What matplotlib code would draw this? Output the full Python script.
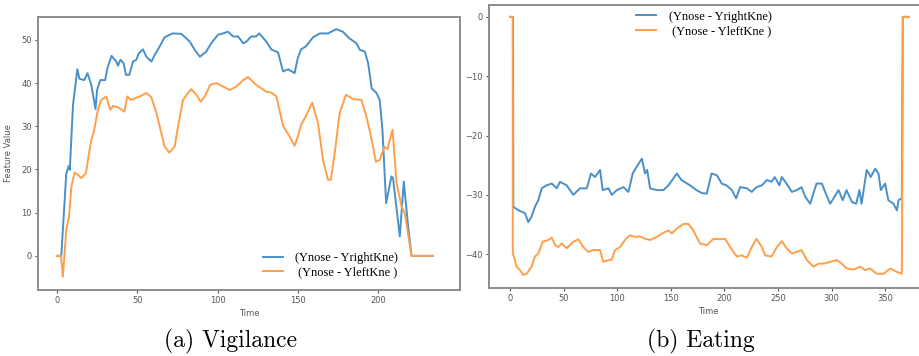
import numpy as np
import matplotlib
matplotlib.use('Agg')
import matplotlib.pyplot as plt

# (a) Vigilance
vig_t_right = [0, 2.7, 5.8, 7.3, 8, 10, 12.7, 14, 17, 19, 21.4, 24, 25, 27, 30, 31.4, 34, 36, 37, 38,
               39.5, 41.5, 43, 45, 47.4, 49.4, 51, 53.6, 55.7, 58.8, 60.9, 64, 67, 72, 77.5, 82.7,
               85.8, 89, 93, 96, 100.3, 103.4, 106.5, 109.7, 112.8, 116, 118, 121, 124, 126, 130.4,
               133.5, 137.7, 140.8, 144, 148, 150, 152, 155, 159.5, 163.7, 168.8, 174, 178, 182,
               186.5, 188.6, 191.7, 193.8, 196, 199, 201, 202.7, 205, 208.3, 209.3, 213.5, 216,
               218.7, 220.8, 234]
vig_right = [0, 0, 19, 20.8, 19.9, 35, 43.2, 41, 40.7, 42.3, 39.6, 34, 38.4, 40.7, 40.7, 43.4, 46.3,
             45.4, 45, 44, 45.4, 44.6, 41.9, 41.9, 45, 45.4, 46.9, 47.8, 46.1, 45, 46.5, 48.5, 50.6,
             51.5, 51.4, 49.6, 47.7, 46.1, 47.3, 49.2, 51.2, 51.5, 51.9, 50.8, 50.8, 49.2, 49.6, 50.8,
             50.8, 51.5, 49.6, 47.8, 47.1, 42.7, 43.2, 42.3, 45.8, 47.8, 48.5, 50.6, 51.5, 51.5, 52.5,
             51.9, 50.4, 49.2, 47.7, 47.3, 44.6, 38.8, 37.7, 36.1, 29.2, 12.2, 18.4, 18, 4.5, 17.2,
             6.8, 0, 0]

vig_t_left = [0, 2.5, 3.7, 5.8, 7.5, 9, 11, 13, 15.2, 18, 20, 21.4, 23, 25.5, 27.6, 30.7, 33.2, 35,
              38, 42, 43.8, 46, 51.5, 55.7, 58.8, 62, 65, 67, 70, 73.3, 75.4, 78.5, 81.6, 83.7, 86.8,
              89.5, 92, 95.5, 99.3, 102.4, 107.6, 111.7, 116, 119, 124, 130.4, 133.5, 136.7, 140.8,
              145, 148, 150, 152, 155, 159, 162.6, 165.7, 168.8, 170.5, 173, 176, 180, 184.4, 189.6,
              192.7, 196, 198.6, 201, 204, 205.8, 209, 211.5, 214.6, 216.6, 220.8, 234]
vig_left = [0, 0, -4.8, 6, 9.1, 16, 19.3, 18.8, 18, 19.1, 23.8, 26.9, 28.8, 33.8, 36.1, 36.9, 33.8,
            34.7, 34.4, 33.4, 36.9, 36.1, 36.9, 37.7, 36.7, 33, 28.4, 25.3, 23.9, 25.3, 29.9, 36.1,
            37.7, 38.6, 37.3, 35.7, 36.9, 39.6, 40, 39.4, 38.4, 39.2, 40.7, 41.4, 39.6, 38, 37.8,
            36.9, 30.1, 27.6, 25.5, 27.6, 30.3, 32.3, 35.5, 30.7, 22.2, 17.6, 17.6, 23.8, 33, 37.3,
            36.3, 36.1, 32.3, 26.9, 21.8, 22.2, 25.3, 24.7, 29.2, 16.8, 11.4, 9.9, 0, 0]

# (b) Eating
eat_t_right = [0, 2.8, 3.1, 7.8, 14, 17, 20, 23.3, 26.4, 29.6, 34, 39, 43.6, 46.7, 52.9, 59, 65.3,
               71.6, 75.6, 79.3, 84, 86.5, 91.8, 95, 99.6, 105.8, 110.5, 114.5, 118, 123, 126, 128,
               130.7, 137, 143, 147.8, 155.6, 160, 168, 174, 179, 183.6, 188, 193, 197.6, 202, 207,
               211, 214.7, 221, 225.6, 230, 235, 239.6, 244, 247, 251.4, 253.6, 258, 263, 267.6, 272,
               275.4, 280, 283, 286, 291, 294, 298.7, 301.8, 306.5, 310.5, 314, 319, 323, 326, 328,
               332.8, 336.6, 340.7, 343.8, 346, 350, 353, 357.8, 361, 362.5, 365.6, 366.5, 372]
eat_right = [0, 0, -32, -32.6, -33.1, -34.6, -33.7, -32, -30.9, -28.9, -28.4, -28.1, -28.9, -27.8,
             -28.4, -30, -28.9, -28.9, -26.4, -27, -25.8, -29.2, -28.9, -30, -29.2, -28.7, -29.5,
             -26.4, -25.3, -23.9, -26.4, -25.8, -28.9, -29.2, -29.2, -28.4, -26.4, -27.5, -28.4,
             -29.2, -29.7, -29.8, -26.4, -26.7, -28.1, -28.4, -29.2, -30.6, -28.7, -28.9, -29.5,
             -28.7, -28.4, -27.5, -27.8, -27, -28.4, -27, -28.1, -29.5, -29.2, -28.7, -30.3, -31.5,
             -29.8, -28.1, -28.1, -29.5, -31.5, -30.6, -29.2, -30.9, -29.2, -31.2, -31.5, -29.2,
             -31.5, -25.8, -27, -25.6, -26.4, -29.2, -28.1, -30.9, -31.5, -32.6, -30.9, -30.6, 0, 0]

eat_t_left = [0, 2.5, 2.6, 3.7, 6.2, 9.3, 12.4, 15.6, 20, 23.3, 26.4, 30.5, 35.8, 39, 42, 45, 48.2,
              53, 59, 63.8, 68.4, 73, 77.8, 84, 87, 91.8, 95, 98, 102.7, 107.3, 112, 116.7, 121, 126,
              130.7, 137, 143, 147.8, 151, 155.6, 161.8, 166.5, 171, 177.3, 183.6, 189.8, 196, 200.7,
              205.4, 211.6, 216, 221, 225.6, 230, 235, 238, 244, 249, 253.6, 258, 263, 267.6, 272,
              277, 283, 287.8, 292.5, 298.7, 305, 309.6, 314, 320.5, 326.7, 331.4, 336, 342, 348.6,
              354.8, 361, 365.6, 366.5, 372]
eat_left = [0, 0, -40, -40.4, -42.1, -42.7, -43.5, -43.3, -42.1, -40.4, -39.9, -37.9, -37.6, -37.2,
            -38.5, -38.8, -38.2, -39, -37.9, -37.5, -38.8, -39.6, -39.3, -39.3, -41.3, -41, -40.9,
            -39.3, -38.8, -37.6, -36.8, -37.1, -37, -37.4, -37.6, -37.1, -36.4, -36, -36.5, -35.7,
            -34.9, -34.9, -36, -38.2, -38.5, -37.4, -37.5, -37.4, -38.8, -40.4, -40.2, -40.6, -38.8,
            -37.4, -38.8, -40.2, -40.4, -38.8, -37.8, -39, -39.9, -39.6, -39.3, -41, -42.1, -41.6,
            -41.6, -41.3, -41, -41.6, -42.4, -42.6, -42.1, -42.7, -42.4, -43.3, -43.3, -42.4, -43,
            -43.3, 0, 0]

labels = ['(Ynose - YrightKne)', ' (Ynose - YleftKne )']
captions = ['(a) Vigilance', '(b) Eating']

W, H = 919, 356
fig = plt.figure(figsize=(W / 100, H / 100), dpi=100)


def px_axes(x0, y0, x1, y1):
    return fig.add_axes([x0 / W, 1 - y1 / H, (x1 - x0) / W, (y1 - y0) / H])


def style(ax):
    for s in ax.spines.values():
        s.set_color('#8c8c8c')
        s.set_linewidth(1.4)
    ax.tick_params(labelsize=6, colors='#555555', length=2.5, width=0.8, pad=2)


legend_font = {'family': 'Liberation Serif', 'size': 9}

ax1 = px_axes(38, 17, 460, 290)
ax1.plot(vig_t_right, vig_right, color='#4a90c8', lw=1.4, label=labels[0])
ax1.plot(vig_t_left, vig_left, color='#ff9f4a', lw=1.4, label=labels[1])
ax1.set_xlim(-11.8, 251)
ax1.set_ylim(-7.9, 55.3)
ax1.set_xticks([0, 50, 100, 150, 200])
ax1.set_yticks([0, 10, 20, 30, 40, 50])
ax1.set_xlabel('Time', fontsize=6, color='#555555', labelpad=3)
ax1.set_ylabel('Feature Value', fontsize=6, color='#555555', labelpad=6)
style(ax1)
ax1.legend(loc='lower right', bbox_to_anchor=(0.88, 0.0), frameon=False, prop=legend_font,
           handlelength=1.6, labelspacing=0.2, handletextpad=1.0)

ax2 = px_axes(489, 5, 928, 288)
ax2.plot(eat_t_right, eat_right, color='#4a90c8', lw=1.4, label=labels[0])
ax2.plot(eat_t_left, eat_left, color='#ff9f4a', lw=1.4, label=labels[1])
ax2.set_xlim(-19.6, 390)
ax2.set_ylim(-45.7, 2.0)
ax2.set_xticks([0, 50, 100, 150, 200, 250, 300, 350])
ax2.set_yticks([0, -10, -20, -30, -40])
ax2.set_xlabel('Time', fontsize=6, color='#555555', labelpad=3)
style(ax2)
ax2.legend(loc='upper center', bbox_to_anchor=(0.49, 1.02), frameon=False, prop=legend_font,
           handlelength=1.6, labelspacing=0.2, handletextpad=1.0)

fig.text(230 / W, 1 - 341 / H, captions[0], family='cmr10', fontsize=17, ha='center', va='center')
fig.text(701 / W, 1 - 341 / H, captions[1], family='cmr10', fontsize=17, ha='center', va='center')

fig.savefig('out.png', dpi=100)
